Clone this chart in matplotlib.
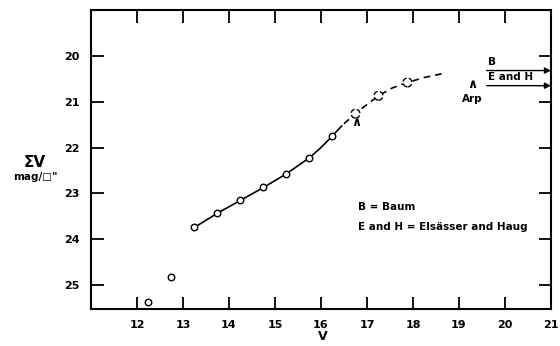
import numpy as np
import matplotlib
matplotlib.use("Agg")
import matplotlib.pyplot as plt

# observed points
v_obs = [12.25, 12.75, 13.25, 13.75, 14.25, 14.75, 15.25, 15.75, 16.25]
sv_obs = [25.36, 24.82, 23.74, 23.43, 23.15, 22.87, 22.57, 22.22, 21.74]

# uncertain points (dashed circles)
v_unc = [16.75, 17.25, 17.88]
sv_unc = [21.26, 20.87, 20.58]

# fitted curve, solid part and extrapolated part
v_fit = [13.25, 13.75, 14.25, 14.75, 15.25, 15.75, 16.0, 16.25, 16.45]
sv_fit = [23.74, 23.43, 23.15, 22.87, 22.57, 22.22, 22.0, 21.74, 21.53]
v_ext = [16.5, 16.75, 17.0, 17.25, 17.55, 17.88, 18.25, 18.63]
sv_ext = [21.48, 21.26, 21.06, 20.87, 20.7, 20.58, 20.47, 20.39]

# limits from other authors
lim_labels = ["B", "E and H"]
lim_sv = [20.32, 20.65]

xticks = list(range(12, 22))
yticks = [20, 21, 22, 23, 24, 25]

fnt = dict(family="DejaVu Sans", weight="bold")

fig = plt.figure(figsize=(5.6, 3.46), dpi=100)
ax = fig.add_axes([91 / 560, 1 - 309 / 346, 460 / 560, 299 / 346])

ax.plot(v_fit, sv_fit, color="black", lw=1.2)
ax.plot(v_ext, sv_ext, color="black", lw=1.2, ls=(0, (4, 3)))
ax.scatter(v_obs, sv_obs, s=22, facecolor="white", edgecolor="black", lw=1.0, zorder=3)
ax.scatter(v_unc, sv_unc, s=40, facecolor="white", edgecolor="black", lw=1.0,
           linestyles="--", zorder=3)

# carets
ax.text(16.77, 21.46, "∧", ha="center", va="center", fontsize=9, **fnt)
ax.text(19.28, 20.63, "∧", ha="center", va="center", fontsize=9, **fnt)
ax.text(19.28, 20.93, "Arp", ha="center", va="center", fontsize=7.5, **fnt)

for lab, y in zip(lim_labels, lim_sv):
    ax.annotate("", xy=(21.0, y), xytext=(19.6, y),
                arrowprops=dict(arrowstyle="-|>", color="black", lw=1.0,
                                mutation_scale=9, shrinkA=0, shrinkB=0))
    ax.text(19.62, y - 0.08, lab, ha="left", va="bottom", fontsize=7.5, **fnt)

ax.text(16.8, 23.3, "B = Baum", ha="left", va="center", fontsize=7.5, **fnt)
ax.text(16.8, 23.74, "E and H = Elsässer and Haug", ha="left", va="center",
        fontsize=7.5, **fnt)

ax.set_xlim(11, 21)
ax.set_ylim(25.52, 19.0)
ax.set_xticks(xticks)
ax.set_yticks(yticks)
ax.tick_params(direction="in", length=9, width=1.3, top=True, right=True,
               labelsize=8, pad=8)
for lbl in ax.get_xticklabels() + ax.get_yticklabels():
    lbl.set_fontweight("bold")
for s in ax.spines.values():
    s.set_linewidth(1.5)

fig.text(35 / 560, 1 - 162 / 346, "ΣV", ha="center", va="center", fontsize=11, **fnt)
fig.text(35 / 560, 1 - 177 / 346, "mag/□\"", ha="center", va="center", fontsize=7.5, **fnt)
fig.text(323 / 560, 1 - 337 / 346, "V", ha="center", va="center", fontsize=9, **fnt)

fig.savefig("out.png", dpi=100)
